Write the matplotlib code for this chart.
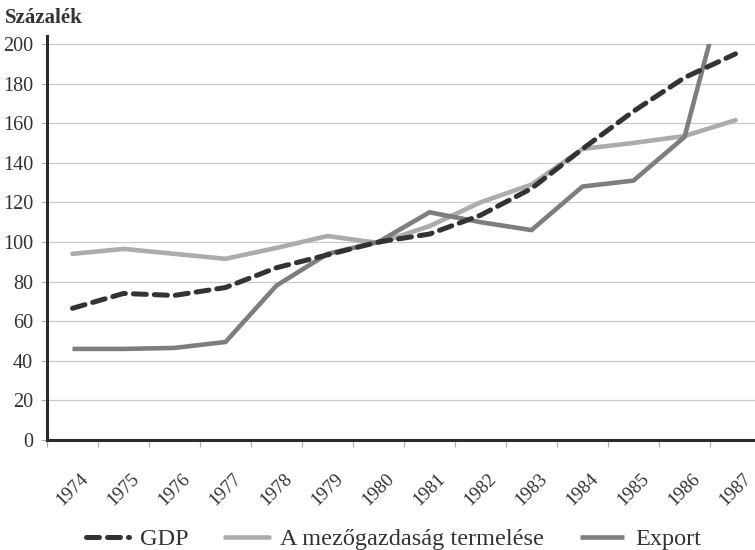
import numpy as np
import matplotlib
matplotlib.use("Agg")
from matplotlib import pyplot as plt
from matplotlib.ticker import FixedLocator
from matplotlib.patches import Rectangle

years = [str(y) for y in range(1974, 1988)]
gdp = [66.5, 74, 73, 77, 87, 93.5, 100, 104, 113.5, 127, 147, 166, 183, 195]
mezogazdasag = [94, 96.5, 94, 91.5, 97, 103, 99.5, 108, 120, 129, 147, 150, 153.5, 161.5]
export = [46, 46, 46.5, 49.5, 78, 94, 100, 115, 110, 106, 128, 131, 153, 250]

plt.rcParams['font.family'] = ['Liberation Serif', 'DejaVu Serif']

fig = plt.figure(figsize=(7.55, 5.5), dpi=100)
ax = fig.add_axes([47 / 755, 0.2, 714 / 755, 0.7345])

x = np.arange(len(years))
ax.plot(x, mezogazdasag, color='#acacac', lw=3.3, solid_capstyle='round',
        label='A mezőgazdaság termelése', zorder=3)
exp_line, = ax.plot(x, export, color='#7e7e7e', lw=3.3, solid_capstyle='butt',
                    label='Export', zorder=4)
ax.plot(x, gdp, color='#333333', lw=3.6, dashes=(2.6, 1.6), dash_capstyle='round',
        label='GDP', zorder=5)

# export runs off the scale above 200
clip = Rectangle((-0.5, 0), 14, 200, transform=ax.transData)
exp_line.set_clip_path(clip)

ax.set_xlim(-0.5, 13.5)
ax.set_ylim(0, 204)
ax.set_yticks(range(0, 201, 20))
ax.yaxis.grid(True, color='#c9c9c9', lw=0.9)
ax.set_axisbelow(True)

ax.set_xticks(x)
ax.set_xticklabels(years, rotation=45, ha='center', fontsize=13.5, color='#333333')
ax.xaxis.set_minor_locator(FixedLocator(np.arange(-0.5, 13.6, 1)))
ax.tick_params(axis='x', which='major', length=0, pad=22)
ax.tick_params(axis='x', which='minor', length=5, color='#b0b0b0', width=0.9)
ax.tick_params(axis='y', length=4, color='#b0b0b0', width=0.9, pad=6,
               labelsize=14.5, labelcolor='#333333')

for s in ['top', 'right']:
    ax.spines[s].set_visible(False)
for s in ['left', 'bottom']:
    ax.spines[s].set_linewidth(2.2)
    ax.spines[s].set_color('#2b2b2b')

fig.text(5 / 755, 1 - 23 / 550, 'Százalék', fontsize=15, fontweight='bold',
         color='#333333')

handles, labels = ax.get_legend_handles_labels()
order = [2, 0, 1]
fig.legend([handles[i] for i in order], [labels[i] for i in order],
           loc='lower center', bbox_to_anchor=(0.521, -0.04), ncol=3, frameon=False,
           fontsize=17.5, handlelength=1.8, columnspacing=1.5, handletextpad=0.45,
           labelcolor='#333333')

fig.savefig('out.png', dpi=100)
